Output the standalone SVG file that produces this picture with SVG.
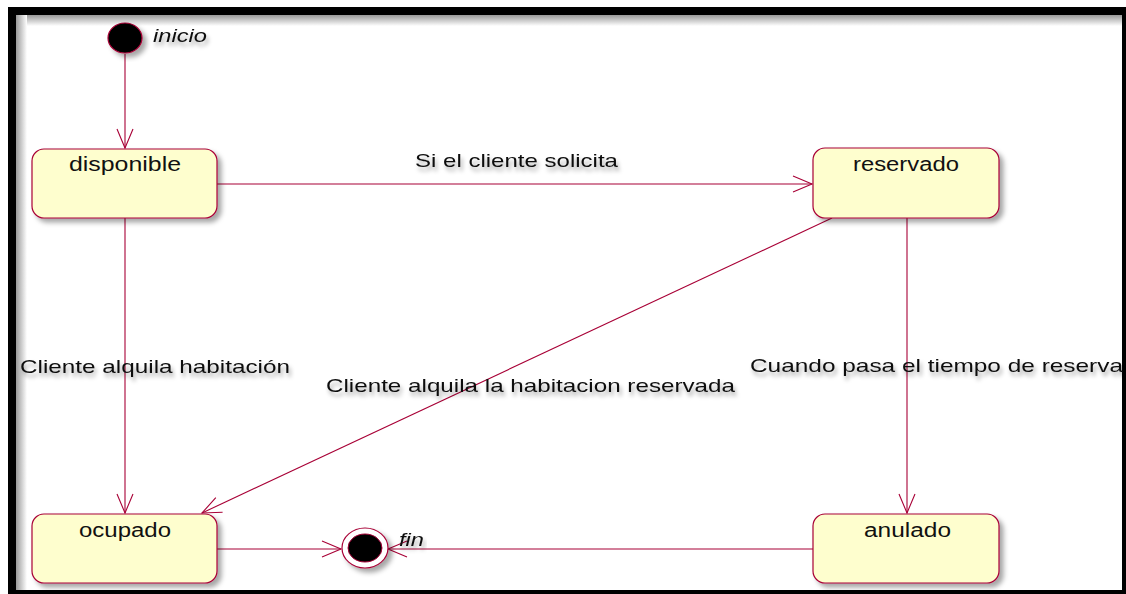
<svg xmlns="http://www.w3.org/2000/svg" width="1126" height="594" viewBox="0 0 1126 594">
<defs>
<style>
.node{fill:#FEFECE;stroke:#A80036;stroke-width:1.2}
.conn{stroke:#A80036;stroke-width:1.1;fill:none}
.lbl{font-family:"Liberation Sans",Arial,sans-serif;font-size:19px;fill:#111}
.nl{font-family:"Liberation Sans",Arial,sans-serif;font-size:20px;fill:#111;text-anchor:start}
.it{font-family:"Liberation Sans",Arial,sans-serif;font-size:19px;font-style:italic;fill:#111}
</style>
<filter id="sh" x="-20%" y="-20%" width="150%" height="150%">
<feDropShadow dx="4" dy="4" stdDeviation="2.5" flood-color="#000" flood-opacity="0.35"/>
</filter>
<filter id="tsh" x="-10%" y="-30%" width="120%" height="180%">
<feDropShadow dx="2" dy="4" stdDeviation="2" flood-color="#000" flood-opacity="0.35"/>
</filter>
<marker id="arr" markerUnits="userSpaceOnUse" markerWidth="24" markerHeight="20" viewBox="-20 -10 24 20" refX="0" refY="0" orient="auto">
<path d="M-19,-8 L0,0 L-19,8" fill="none" stroke="#A80036" stroke-width="1.1"/>
</marker>
<linearGradient id="gt" x1="0" y1="0" x2="0" y2="1"><stop offset="0" stop-color="#999"/><stop offset="1" stop-color="#fff"/></linearGradient>
<linearGradient id="gl" x1="0" y1="0" x2="1" y2="0"><stop offset="0" stop-color="#999"/><stop offset="1" stop-color="#fff"/></linearGradient>
</defs>
<rect x="0" y="0" width="1126" height="594" fill="#fff"/>
<g id="frame">
<rect x="16" y="15" width="1106" height="11" fill="url(#gt)"/>
<rect x="16" y="15" width="11" height="575" fill="url(#gl)"/>
<rect x="8" y="7" width="1118" height="8" fill="#000"/>
<rect x="8" y="7" width="8" height="587" fill="#000"/>
<rect x="1122" y="7" width="4" height="587" fill="#000"/>
<rect x="8" y="590" width="1118" height="4" fill="#000"/>
</g>
<g id="connectors">
<line class="conn" x1="125" y1="54" x2="125" y2="148" marker-end="url(#arr)"/>
<line class="conn" x1="217" y1="184" x2="812" y2="184" marker-end="url(#arr)"/>
<line class="conn" x1="125" y1="218" x2="125" y2="513" marker-end="url(#arr)"/>
<line class="conn" x1="832" y1="218" x2="202" y2="513" marker-end="url(#arr)"/>
<line class="conn" x1="907" y1="218" x2="907" y2="513" marker-end="url(#arr)"/>
<line class="conn" x1="217" y1="549" x2="341" y2="549" marker-end="url(#arr)"/>
<line class="conn" x1="813" y1="549" x2="388" y2="549" marker-end="url(#arr)"/>
<text class="lbl" x="415" y="167" textLength="203" lengthAdjust="spacingAndGlyphs" filter="url(#tsh)">Si el cliente solicita</text>
<text class="lbl" x="20" y="373" textLength="270" lengthAdjust="spacingAndGlyphs" filter="url(#tsh)">Cliente alquila habitación</text>
<text class="lbl" x="326" y="392" textLength="409" lengthAdjust="spacingAndGlyphs" filter="url(#tsh)">Cliente alquila la habitacion reservada</text>
<text class="lbl" x="750" y="372" textLength="373" lengthAdjust="spacingAndGlyphs" filter="url(#tsh)">Cuando pasa el tiempo de reserva</text>
</g>
<g id="inicio">
<ellipse cx="125" cy="38" rx="17" ry="15" fill="#000" stroke="#A80036" stroke-width="1.2" filter="url(#sh)"/>
<text class="it" x="153" y="42" textLength="54" lengthAdjust="spacingAndGlyphs" filter="url(#tsh)">inicio</text>
</g>
<g id="disponible">
<rect class="node" x="32" y="149" width="185" height="69" rx="12" filter="url(#sh)"/>
<text class="nl" x="69" y="171" textLength="112" lengthAdjust="spacingAndGlyphs">disponible</text>
</g>
<g id="reservado">
<rect class="node" x="813" y="148" width="186" height="70" rx="12" filter="url(#sh)"/>
<text class="nl" x="853" y="171" textLength="106" lengthAdjust="spacingAndGlyphs">reservado</text>
</g>
<g id="ocupado">
<rect class="node" x="32" y="514" width="185" height="69" rx="12" filter="url(#sh)"/>
<text class="nl" x="79" y="537" textLength="92" lengthAdjust="spacingAndGlyphs">ocupado</text>
</g>
<g id="anulado">
<rect class="node" x="813" y="514" width="186" height="69" rx="12" filter="url(#sh)"/>
<text class="nl" x="864" y="537" textLength="87" lengthAdjust="spacingAndGlyphs">anulado</text>
</g>
<g id="fin">
<ellipse cx="365" cy="548" rx="23" ry="20" fill="#fff" stroke="#A80036" stroke-width="1.2" filter="url(#sh)"/>
<ellipse cx="365" cy="548" rx="17" ry="14" fill="#000" stroke="#A80036" stroke-width="1"/>
<text class="it" x="399" y="546" textLength="25" lengthAdjust="spacingAndGlyphs" filter="url(#tsh)">fin</text>
</g>
</svg>
